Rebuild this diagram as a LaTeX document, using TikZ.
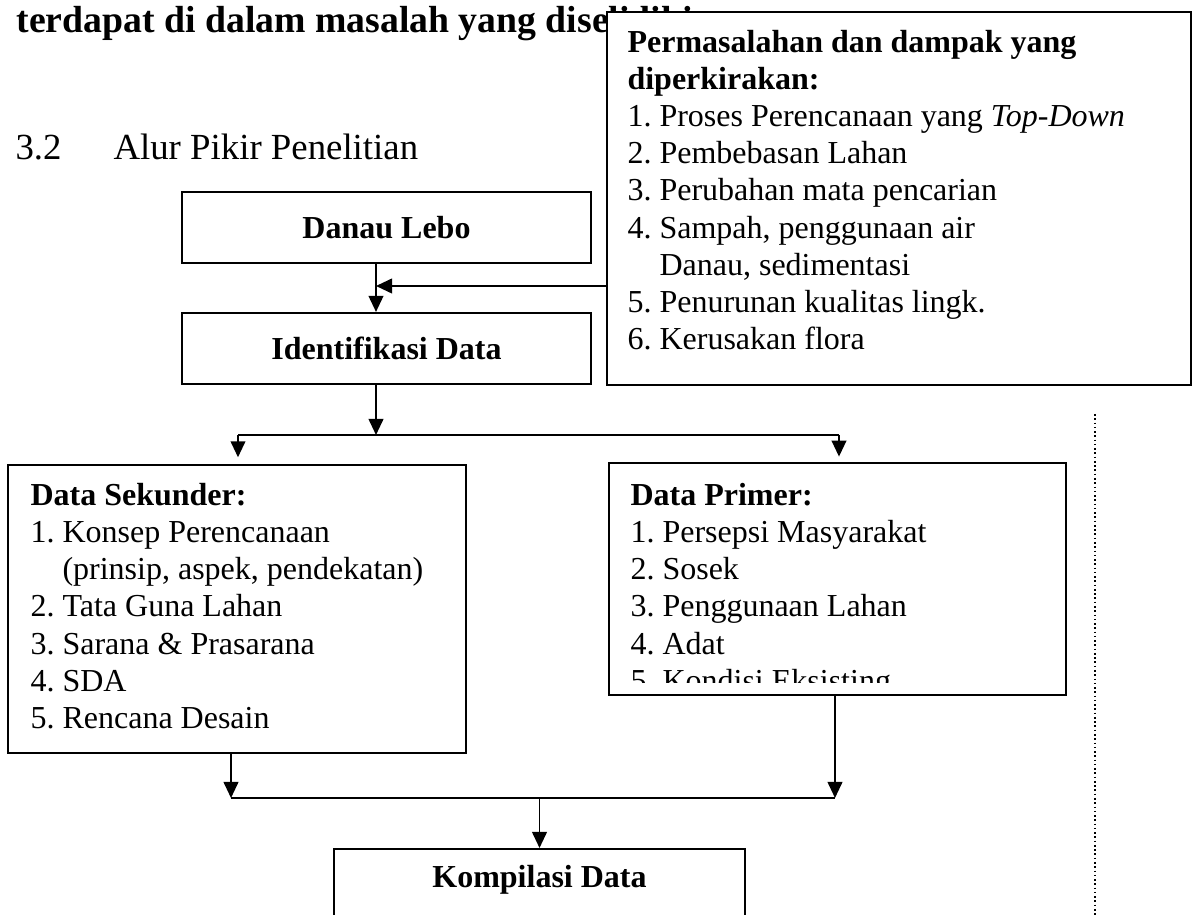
\documentclass[tikz,border=0pt]{standalone}
\usepackage{fontspec}
\setmainfont{Liberation Serif}
\usetikzlibrary{arrows.meta}
\newcommand{\px}{0.375pt}
\newcommand{\nomor}[1]{\makebox[1em][l]{#1.}}

\begin{document}
\begin{tikzpicture}[x=\px, y=-\px,
    kotak/.style={draw, fill=white, line width=0.8pt, inner sep=0pt},
    judul/.style={font=\fontsize{12}{14}\selectfont\bfseries},
    daftar/.style={anchor=north west, align=left, inner sep=0pt, font=\fontsize{12}{13.9}\selectfont},
    teks/.style={anchor=base west, inner sep=0pt, font=\fontsize{13.8}{16}\selectfont},
    garis/.style={line width=0.7pt},
    panah/.style={garis, -{Triangle[length=6pt, width=5.5pt]}}]
      \clip (0,0) rectangle (1197,915);
      \node[teks, font=\fontsize{14.15}{16}\selectfont\bfseries] (kalimat) at (16,33) {terdapat di dalam masalah yang diselidiki};
      \node[teks] (subbab) at (15,160) {3.2};
      \node[teks] (alur) at (113,160) {Alur Pikir Penelitian};

      \node[kotak, minimum width=584*\px, minimum height=373*\px] (masalah) at (899,198.5) {};
      \node[daftar] (masalahteks) at (627,30) {\textbf{Permasalahan dan dampak yang}\\
        \textbf{diperkirakan:}\\
        \nomor{1}Proses Perencanaan yang \textit{Top-Down}\\
        \nomor{2}Pembebasan Lahan\\
        \nomor{3}Perubahan mata pencarian\\
        \nomor{4}Sampah, penggunaan air\\
        \hspace*{1em}Danau, sedimentasi\\
        \nomor{5}Penurunan kualitas lingk.\\
        \nomor{6}Kerusakan flora};

      \node[kotak, judul, minimum width=409*\px, minimum height=71*\px] (lebo) at (386.5,227.5) {Danau Lebo};
      \node[kotak, judul, minimum width=409*\px, minimum height=71*\px] (identifikasi) at (386.5,348.5) {Identifikasi Data};
      \coordinate (jalur) at (376,286);
      \draw[panah] (lebo.south -| jalur) -- (identifikasi.north -| jalur);
      \draw[panah] (masalah.west |- jalur) -- (jalur);

      \node[kotak, minimum width=458*\px, minimum height=288*\px] (sekunder) at (237,609) {};
      \node[daftar] (sekunderteks) at (30,483) {\textbf{Data Sekunder:}\\
        \nomor{1}Konsep Perencanaan\\
        \hspace*{1em}(prinsip, aspek, pendekatan)\\
        \nomor{2}Tata Guna Lahan\\
        \nomor{3}Sarana \& Prasarana\\
        \nomor{4}SDA\\
        \nomor{5}Rencana Desain};
      \node[kotak, minimum width=457*\px, minimum height=232*\px] (primer) at (837.5,579) {};
      \begin{scope}
        \clip (609,463) rectangle (1066,683);
        \node[daftar] (primerteks) at (630,483) {\textbf{Data Primer:}\\
          \nomor{1}Persepsi Masyarakat\\
          \nomor{2}Sosek\\
          \nomor{3}Penggunaan Lahan\\
          \nomor{4}Adat\\
          \nomor{5}Kondisi Eksisting};
      \end{scope}

      \coordinate (cabang) at (376,435);
      \coordinate (kiri) at (238,435);
      \coordinate (kanan) at (839,435);
      \draw[panah] (identifikasi.south -| cabang) -- (cabang);
      \draw[garis] (kiri) -- (kanan);
      \draw[panah, shorten >=2.5pt] (kiri) -- (sekunder.north -| kiri);
      \draw[panah, shorten >=2pt] (kanan) -- (primer.north -| kanan);

      \node[kotak, minimum width=411*\px, minimum height=120*\px, anchor=north] (kompilasi) at (539.5,848) {};
      \node[judul] (kompilasiteks) at (539.5,880) {Kompilasi Data};
      \coordinate (kiribawah) at (231,798);
      \coordinate (kananbawah) at (835,798);
      \coordinate (gabung) at (539.5,798);
      \draw[panah] (sekunder.south -| kiribawah) -- (kiribawah);
      \draw[panah] (primer.south -| kananbawah) -- (kananbawah);
      \draw[garis] (kiribawah) -- (kananbawah);
      \draw[panah] (gabung) -- (kompilasi.north);

      \draw[line width=0.6pt, densely dotted] (1095,414) -- (1095,915);
    \end{tikzpicture}
\end{document}
